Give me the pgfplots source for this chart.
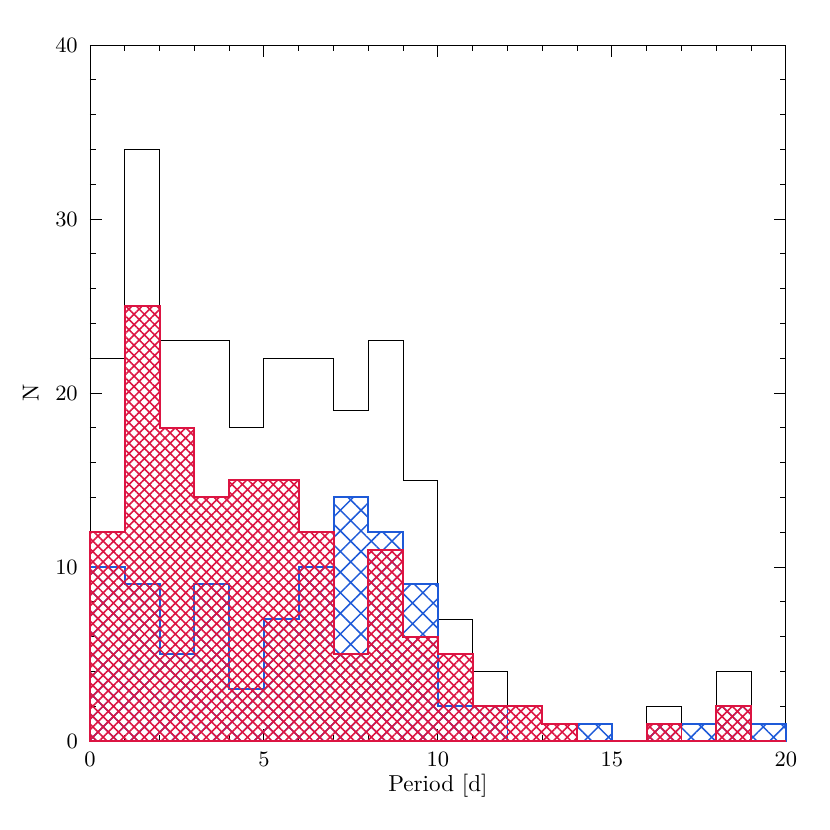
\documentclass[border=0pt]{standalone}
\usepackage{pgfplots}
\pgfplotsset{compat=1.18}
\usetikzlibrary{patterns.meta}
\definecolor{hred}{HTML}{DC1442}
\definecolor{hblue}{HTML}{1E5AD8}

% bin left edges, last row repeats bin 19-20 to close the steps
\pgfplotstableread{
x  tot red blue
0  22  12  10
1  34  25  9
2  23  18  5
3  23  14  9
4  18  15  3
5  22  15  7
6  22  12  10
7  19  5   14
8  23  11  12
9  15  6   9
10 7   5   2
11 4   2   2
12 2   2   0
13 1   1   0
14 1   0   1
15 0   0   0
16 2   1   1
17 1   0   1
18 4   2   2
19 1   0   1
20 1   0   1
}\hist

\begin{document}
\begin{tikzpicture}
\begin{axis}[
    at={(0,0)}, anchor=south west,
    scale only axis, width=10.06cm, height=10.06cm,
    xmin=0, xmax=20, ymin=0, ymax=40,
    xtick={0,5,...,20}, ytick={0,10,...,40},
    minor x tick num=4, minor y tick num=4,
    tick align=inside,
    major tick length=4.9pt, minor tick length=2.5pt,
    axis line style={line width=0.4pt},
    tick style={line width=0.4pt, black},
    tick label style={font=\fontsize{9.5}{11}\selectfont},
    label style={font=\fontsize{9.5}{11}\selectfont},
    xticklabel style={yshift=-1pt},
    yticklabel style={xshift=-1.5pt},
    xlabel={Period [d]}, ylabel={N},
    xlabel style={at={(axis description cs:0.5,-0.064)}, anchor=center},
    ylabel style={at={(axis description cs:-0.085,0.5)}, anchor=center},
    clip=false,
]
  \addplot[const plot, black, line width=0.4pt] table[x=x, y=tot] {\hist};
  \addplot[const plot, draw=hblue, line width=0.8pt,
           pattern={Hatch[angle=45, distance=6pt, line width=0.6pt]}, pattern color=hblue]
      table[x=x, y=blue] {\hist} \closedcycle;
  \addplot[const plot, draw=hred, line width=0.8pt,
           pattern={Hatch[angle=45, distance=3pt, line width=0.65pt]}, pattern color=hred]
      table[x=x, y=red] {\hist} \closedcycle;
\end{axis}
\path (-1.301cm,-1.287cm) rectangle (10.697cm,10.712cm);
\end{tikzpicture}
\end{document}
